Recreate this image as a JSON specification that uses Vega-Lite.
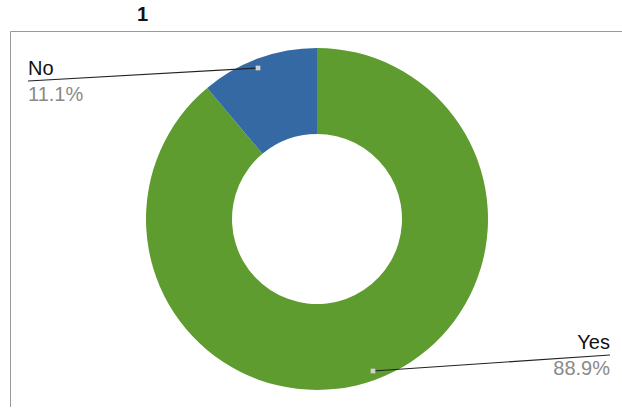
{
  "$schema": "https://vega.github.io/schema/vega-lite/v6.json",
  "autosize": "none",
  "padding": {"left": 10, "top": 31, "right": 0, "bottom": 0},
  "width": 614,
  "height": 376,
  "background": "white",
  "title": {"text": "1", "anchor": "start", "dx": 127, "offset": 6, "fontSize": 20, "fontWeight": "bold", "font": "Liberation Sans", "color": "#111"},
  "config": {"view": {"stroke": "#9a9a9a", "strokeWidth": 1}, "font": "Liberation Sans"},
  "datasets": {
    "slices": [
      {"answer": "Yes", "share": 88.9},
      {"answer": "No", "share": 11.1}
    ],
    "callouts": [
      {"answer": "No", "pct": "11.1%", "dotX": -59, "dotY": 151, "endX": -289, "endY": 138},
      {"answer": "Yes", "pct": "88.9%", "dotX": 56, "dotY": -152, "endX": 293, "endY": -136}
    ]
  },
  "layer": [
    {
      "data": {"name": "slices"},
      "mark": {"type": "arc", "innerRadius": 85, "outerRadius": 171},
      "encoding": {
        "theta": {"field": "share", "type": "quantitative", "stack": true},
        "order": {"field": "answer", "sort": "descending"},
        "color": {"field": "answer", "type": "nominal", "scale": {"domain": ["Yes", "No"], "range": ["#5e9c2f", "#3569a3"]}, "legend": null}
      }
    },
    {
      "data": {"name": "callouts"},
      "mark": {"type": "rule", "color": "#222", "strokeWidth": 1.2},
      "encoding": {
        "x": {"field": "dotX", "type": "quantitative", "scale": {"domain": [-307, 307], "nice": false, "zero": false}, "axis": null},
        "y": {"field": "dotY", "type": "quantitative", "scale": {"domain": [-188, 188], "nice": false, "zero": false}, "axis": null},
        "x2": {"field": "endX"},
        "y2": {"field": "endY"}
      }
    },
    {
      "data": {"name": "callouts"},
      "mark": {"type": "point", "shape": "square", "size": 22, "filled": true, "color": "#d2d2d2", "opacity": 1},
      "encoding": {
        "x": {"field": "dotX", "type": "quantitative"},
        "y": {"field": "dotY", "type": "quantitative"}
      }
    },
    {
      "data": {"name": "callouts"},
      "mark": {"type": "text", "fontSize": 20, "color": "#111", "baseline": "alphabetic", "dy": -6, "align": {"expr": "datum.endX < 0 ? 'left' : 'right'"}},
      "encoding": {
        "x": {"field": "endX", "type": "quantitative"},
        "y": {"field": "endY", "type": "quantitative"},
        "text": {"field": "answer"}
      }
    },
    {
      "data": {"name": "callouts"},
      "mark": {"type": "text", "fontSize": 20, "color": "#8a8a8a", "baseline": "alphabetic", "dy": 20, "align": {"expr": "datum.endX < 0 ? 'left' : 'right'"}},
      "encoding": {
        "x": {"field": "endX", "type": "quantitative"},
        "y": {"field": "endY", "type": "quantitative"},
        "text": {"field": "pct"}
      }
    }
  ]
}
